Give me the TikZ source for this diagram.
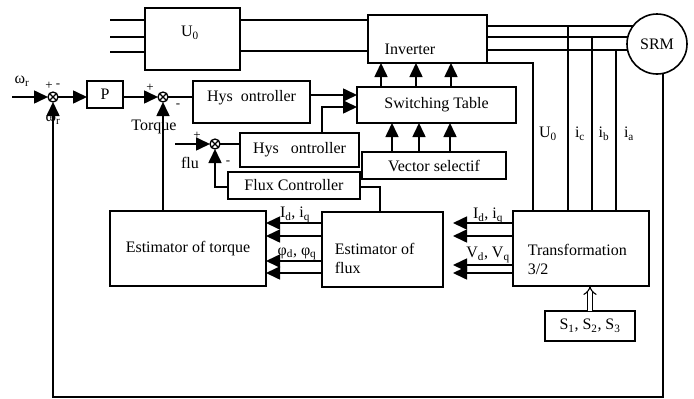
\documentclass[tikz,border=0pt]{standalone}
\usepackage{fontspec}
\setmainfont{Liberation Serif}
\usetikzlibrary{arrows.meta}
\begin{document}
\begin{tikzpicture}[x=1pt,y=-1pt,line width=1.6pt,
  blk/.style={draw,rectangle,inner sep=2pt,outer sep=0pt,font=\fontsize{16}{19}\selectfont},
  lbl/.style={inner sep=0pt,font=\fontsize{16}{19}\selectfont},
  sgn/.style={inner sep=0pt,font=\fontsize{13}{13}\selectfont},
  sumj/.style={draw,circle,minimum size=10pt,inner sep=0pt,outer sep=0pt,line width=1.3pt,
    path picture={\draw[line width=1.1pt] (path picture bounding box.south west)--(path picture bounding box.north east)
      (path picture bounding box.north west)--(path picture bounding box.south east);}},
  arr/.style={-{Triangle[length=14pt,width=13pt]}}]
\useasboundingbox (0,0) rectangle (694,399);
\node[blk,minimum width=95pt,minimum height=62pt] (u0) at (192.5,39) {};
\node[lbl] (u0txt) at (190,33) {U\textsubscript{0}};
\node[blk,minimum width=119pt,minimum height=48pt] (inv) at (427.5,39) {};
\node[lbl] (invtxt) at (410,49) {Inverter};
\node[draw,circle,minimum size=60pt,inner sep=0pt,outer sep=0pt,font=\fontsize{16}{19}\selectfont] (srm) at (657,44) {SRM};
\node[blk,minimum width=159pt,minimum height=36pt] (sw) at (436.5,105) {Switching Table};
\node[blk,minimum width=117pt,minimum height=42pt] (hys1) at (251.5,102) {};
\node[lbl] (hys1txt) at (251.5,98) {Hys\ \ ontroller};
\node[blk,minimum width=119pt,minimum height=34pt] (hys2) at (299.5,150) {Hys\ \ \ ontroller};
\node[blk,minimum width=132pt,minimum height=27pt] (fc) at (294,185.5) {Flux Controller};
\node[blk,minimum width=144pt,minimum height=27pt] (vs) at (434,165.5) {Vector selectif};
\node[blk,minimum width=36pt,minimum height=27pt] (p) at (105,94.5) {P};
\node[blk,minimum width=156pt,minimum height=75pt] (te) at (188,248.5) {Estimator of torque};
\node[blk,minimum width=121pt,minimum height=75pt] (fe) at (382.5,249.5) {};
\node[lbl,align=left,anchor=west] (fetxt) at (334,258) {Estimator of\\flux};
\node[blk,minimum width=136pt,minimum height=75pt] (tr) at (581,248.5) {};
\node[lbl,align=left,anchor=west] (trtxt) at (527,259) {Transformation\\3/2};
\node[blk,minimum width=90pt,minimum height=30pt] (s) at (590,326) {S\textsubscript{1}, S\textsubscript{2}, S\textsubscript{3}};
\node[sumj] (j1) at (53,97) {};
\node[sumj] (j2) at (163,97) {};
\node[sumj] (j3) at (215,144) {};
% power side
\foreach \yy in {20,37,52} \draw (110,\yy) -- (u0.west |- 0,\yy);
\foreach \yy in {20,51} \draw (u0.east |- 0,\yy) -- (inv.west |- 0,\yy);
\foreach \a in {143,166.5,191.5} \draw (inv.east |- srm.\a) -- (srm.\a);
\coordinate (ic) at (568,25);
\coordinate (ib) at (592,37);
\coordinate (ia) at (616,50);
\foreach \c in {ic,ib,ia} \draw (\c) -- (\c |- tr.north);
\coordinate (u0x) at (533,63);
\draw (inv.south east) -- (u0x) -- (u0x |- tr.north);
\node[lbl] (lu0) at (548,134) {U\textsubscript{0}};
\node[lbl] (lic) at (580,134) {i\textsubscript{c}};
\node[lbl] (lib) at (604,134) {i\textsubscript{b}};
\node[lbl] (lia) at (629,134) {i\textsubscript{a}};
% speed loop
\coordinate (win) at (12,97);
\draw[arr] (win) -- (j1);
\node[lbl] (wref) at (22,81) {ω\textsubscript{r}};
\node[sgn] at (49,86) {+};
\node[sgn] at (58,86) {-};
\coordinate (fb) at (53,397);
\draw[arr] (srm.-79) |- (fb) -- (j1);
\node[lbl] (wfb) at (53,119) {ω\textsubscript{r}};
\draw[arr] (j1) -- (j1 -| p.west);
\draw[arr] (p.east |- j2) -- (j2);
\node[sgn] at (150,88) {+};
\node[sgn] at (178,106) {-};
\draw (j2) -- (j2 -| hys1.west);
\draw[arr] (te.north -| j2) -- (j2);
\node[lbl] (ltq) at (154,127) {Torque};
\draw[arr] ([yshift=7pt]hys1.east) -- ([yshift=7pt]hys1.east -| sw.west);
% flux loop
\coordinate (fin) at (175,144);
\draw[arr] (fin) -- (j3);
\node[sgn] at (197,136) {+};
\node[sgn] at (228,163) {-};
\node[lbl] (lflu) at (190,163) {flu};
\draw (j3) -- (j3 -| hys2.west);
\draw[arr] ([yshift=-1.5pt]fc.west) -| (j3);
\draw ([xshift=-2.5pt]fe.north) |- ([yshift=-1.5pt]fc.east);
\draw[arr] ([xshift=22.5pt]hys2.north) |- ([yshift=-2pt]sw.west);
\foreach \dx in {-55.5,-20.5,14.5} \draw[arr] ([xshift=\dx pt]sw.north) -- ([xshift=\dx pt]sw.north |- inv.south);
\foreach \dx in {-42,-15,16} \draw[arr] ([xshift=\dx pt]vs.north) -- ([xshift=\dx pt]vs.north |- sw.south);
% estimators
\foreach \yy in {223,236,265,273} \draw[arr,shorten >=10pt] (tr.west |- 0,\yy) -- (fe.east |- 0,\yy);
\foreach \yy in {223,236,261,273} \draw[arr] (fe.west |- 0,\yy) -- (te.east |- 0,\yy);
\node[lbl] (lidq1) at (295,215) {I\textsubscript{d}, i\textsubscript{q}};
\node[lbl] (lphi) at (297,254) {φ\textsubscript{d}, φ\textsubscript{q}};
\node[lbl] (lidq2) at (488,216) {I\textsubscript{d}, i\textsubscript{q}};
\node[lbl] (lvdq) at (488,255) {V\textsubscript{d}, V\textsubscript{q}};
\draw[double,double distance=3.5pt,line width=1.1pt,-{Implies}] (s.north) -- (s.north |- tr.south);
\end{tikzpicture}
\end{document}
